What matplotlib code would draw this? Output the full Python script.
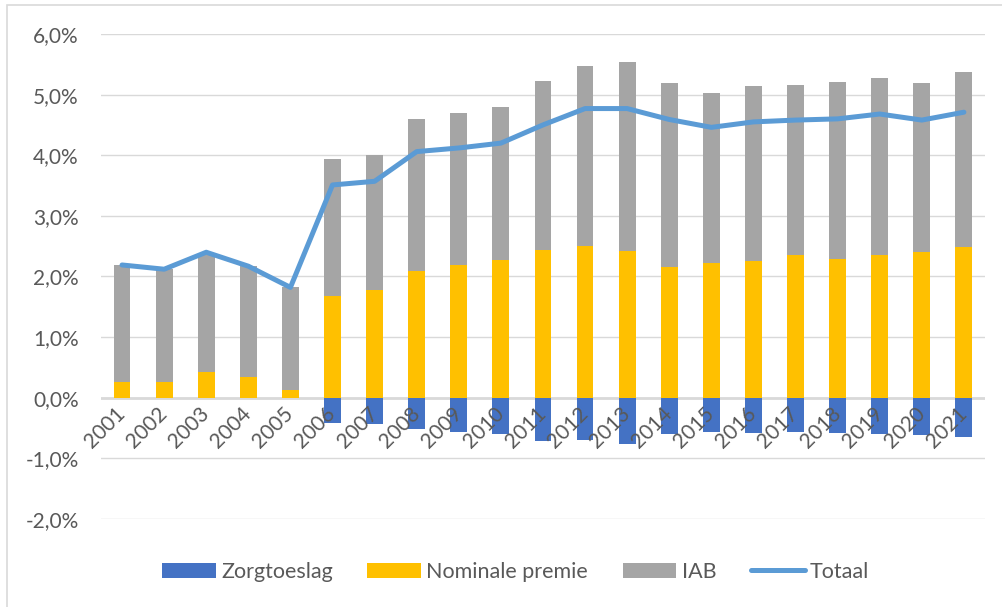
import matplotlib.pyplot as plt
from matplotlib.patches import Rectangle
from matplotlib.ticker import FuncFormatter
import numpy as np

plt.rcParams['font.family'] = ['Lato', 'DejaVu Sans']

jaren = [str(j) for j in range(2001, 2022)]

# waarden in procenten
zorgtoeslag = [0, 0, 0, 0, 0, -0.42, -0.43, -0.51, -0.57, -0.59, -0.72,
               -0.70, -0.77, -0.59, -0.56, -0.58, -0.57, -0.58, -0.59, -0.62, -0.65]
nominale_premie = [0.26, 0.26, 0.42, 0.35, 0.12, 1.67, 1.77, 2.09, 2.19, 2.27, 2.43,
                   2.50, 2.42, 2.16, 2.23, 2.26, 2.36, 2.29, 2.36, 2.40, 2.48]
bar_top = [2.19, 2.13, 2.36, 2.18, 1.82, 3.94, 4.00, 4.59, 4.69, 4.80, 5.23,
           5.47, 5.54, 5.19, 5.02, 5.14, 5.16, 5.20, 5.28, 5.19, 5.38]
iab = [t - n for t, n in zip(bar_top, nominale_premie)]
totaal = [2.19, 2.12, 2.40, 2.17, 1.82, 3.51, 3.57, 4.06, 4.12, 4.20, 4.50,
          4.77, 4.77, 4.59, 4.46, 4.55, 4.58, 4.60, 4.68, 4.58, 4.71]

tekst = '#595959'

fig = plt.figure(figsize=(10.03, 6.07), dpi=100)
ax = fig.add_axes([0.1007, 0.145, 0.8813, 0.799])

x = np.arange(len(jaren))
w = 0.4
b1 = ax.bar(x, zorgtoeslag, w, color='#4472C4', label='Zorgtoeslag', zorder=2)
b2 = ax.bar(x, nominale_premie, w, color='#FFC000', label='Nominale premie', zorder=2)
b3 = ax.bar(x, iab, w, bottom=nominale_premie, color='#A5A5A5', label='IAB', zorder=2)
l1, = ax.plot(x, totaal, color='#5B9BD5', lw=3.6, label='Totaal', zorder=3,
              solid_capstyle='round', solid_joinstyle='round')

ax.set_xlim(-0.5, len(jaren) - 0.5)
ax.set_ylim(-2, 6)
ax.set_yticks(np.arange(-2, 6.1, 1))
ax.yaxis.set_major_formatter(FuncFormatter(lambda v, p: f'{v:.1f}%'.replace('.', ',')))
ax.grid(axis='y', color='#D9D9D9', lw=1, zorder=0)
ax.axhline(0, color='#D9D9D9', lw=2, zorder=1)

for s in ax.spines.values():
    s.set_visible(False)
ax.spines['bottom'].set_position(('data', 0))
ax.xaxis.set_zorder(5)
ax.set_xticks(x)
ax.set_xticklabels(jaren)
ax.tick_params(axis='x', length=0, pad=9, labelsize=15, labelcolor=tekst)
ax.tick_params(axis='y', length=0, pad=16, labelsize=15, labelcolor=tekst)
for lbl in ax.get_xticklabels():
    lbl.set_rotation(45)
    lbl.set_ha('right')
    lbl.set_va('center')
    lbl.set_rotation_mode('anchor')

fig.legend([b1, b2, b3, l1], ['Zorgtoeslag', 'Nominale premie', 'IAB', 'Totaal'],
           loc='center', bbox_to_anchor=(0.514, 0.058), ncol=4, frameon=False,
           fontsize=15.5, labelcolor=tekst, handlelength=2.5, handletextpad=0.25,
           columnspacing=1.6)

fig.patches.append(Rectangle((7 / 1003, -0.01), 1.0, 1 - 5 / 607 + 0.01,
                             transform=fig.transFigure, fill=False,
                             edgecolor='#D9D9D9', lw=1.2))

fig.savefig('out.png', dpi=100)
